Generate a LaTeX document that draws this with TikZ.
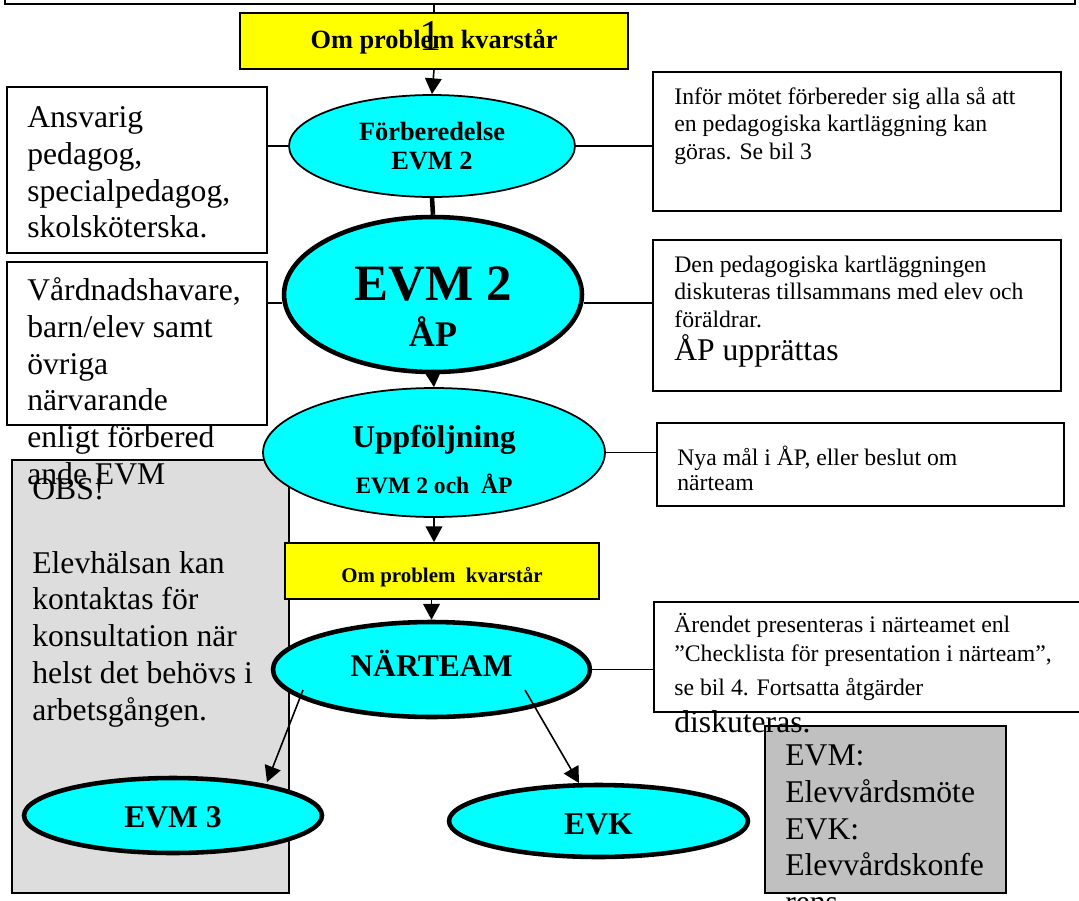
\documentclass[tikz,border=0pt]{standalone}
\usepackage{fontspec}
\setmainfont{Liberation Serif}
\usetikzlibrary{shapes.geometric,arrows.meta,fit,calc}

\definecolor{evmcyan}{RGB}{0,255,255}
\definecolor{probgul}{RGB}{255,255,0}
\definecolor{obsgra}{RGB}{221,221,221}
\definecolor{ordgra}{RGB}{192,192,192}

\tikzset{
  ruta/.style={rectangle, draw, line width=1pt, fill=white, inner sep=0pt},
  moete/.style={ellipse, draw, fill=evmcyan, line width=1pt, inner sep=0pt, align=center},
  tjockmoete/.style={moete, line width=2.6pt},
  problem/.style={rectangle, draw, fill=probgul, line width=1pt, inner sep=0pt},
  brodtext/.style={anchor=north west, inner sep=0pt, align=left, font=\fontsize{18}{21}\selectfont},
  smaltext/.style={anchor=north west, inner sep=0pt, align=left},
  pil/.style={-{Triangle[length=9pt,width=9.5pt]}, line width=0.9pt},
  linje/.style={line width=1pt},
}

\begin{document}
\begin{tikzpicture}[x=0.02cm,y=-0.02cm]
  \useasboundingbox (0,0) rectangle (1079,900);
  \fill[white] (0,0) rectangle (1079,900);

  % ram upptill (avklippt)
  \node[ruta, fit={(5,-40)(1075,4)}] (topbox) {};

  % grå OBS-ruta till vänster
  \node[ruta, fill=obsgra, fit={(12,460)(289,893)}] (obs) {};
  \node[brodtext] (obstext) at (32,473.1) {\strut OBS!\\[21pt]Elevhälsan kan\\kontaktas för\\konsultation när\\helst det behövs i\\arbetsgången.};

  % vänstra rutor: vilka som deltar
  \node[ruta, fit={(7,87)(267,253)}] (ansvar) {};
  \node[brodtext] (ansvartext) at (27,101.1) {\strut Ansvarig\\pedagog,\\specialpedagog,\\skolsköterska.};
  \node[ruta, fit={(7,262)(267,425)}] (vard) {};
  \node[brodtext] (vardtext) at (27,274.1) {\strut Vårdnadshavare,\\barn/elev samt\\övriga\\närvarande\\enligt förbered\\ande EVM};

  % högra rutor: vad som görs
  \node[ruta, fit={(653,72)(1061,211)}] (forbruta) {};
  \node[smaltext, font=\fontsize{13.5}{15.6}\selectfont] (forbtext) at (674,84.7) {\strut Inför mötet förbereder sig alla så att\\en pedagogiska kartläggning kan\\göras. Se bil 3};
  \node[ruta, fit={(653,240)(1061,391)}] (diskruta) {};
  \node[smaltext, font=\fontsize{13.5}{15.6}\selectfont] (disktext) at (674,252.7) {\strut Den pedagogiska kartläggningen\\diskuteras tillsammans med elev och\\föräldrar.};
  \node[anchor=base west, inner sep=0pt, font=\fontsize{18}{21}\selectfont] (upprtext) at (674,360) {ÅP upprättas};
  \node[ruta, fit={(657,423)(1064,506)}] (nyaruta) {};
  \node[smaltext, font=\fontsize{13.5}{14.2}\selectfont] (nyatext) at (677,445.5) {\strut Nya mål i ÅP, eller beslut om\\närteam};
  \node[ruta, fit={(654,602)(1085,712)}] (arenderuta) {};
  \node[smaltext, font=\fontsize{13.5}{16.4}\selectfont] (arendetext) at (674,611.8) {\strut Ärendet presenteras i närteamet enl\\”Checklista för presentation i närteam”,\\[2.9pt]se bil 4. Fortsatta åtgärder};

  % förklaring av förkortningar
  \node[ruta, fill=ordgra, fit={(765,726)(1006,893)}] (ordruta) {};
  \node[brodtext] (ordtext) at (785,739.1) {\strut EVM:\\Elevvårdsmöte\\EVK:\\Elevvårdskonfe\\rens};
  \node[anchor=base west, inner sep=0pt, font=\fontsize{18}{21}\selectfont] (disktxt) at (674,732) {diskuteras.};

  % gången i mitten
  \node[problem, minimum width=7.76cm, minimum height=1.12cm, text height=10pt, text depth=2pt, font=\bfseries\fontsize{15}{17}\selectfont] (prob1) at (434,41) {Om problem kvarstår};
  \node[anchor=base, inner sep=0pt, font=\fontsize{25}{25}\selectfont] (ett) at (430,50) {1};
  \node[moete, minimum width=5.72cm, minimum height=2.04cm, font=\bfseries\fontsize{15}{17}\selectfont] (forb) at (432,146) {Förberedelse\\EVM 2};
  \node[tjockmoete, minimum width=5.96cm, minimum height=3.1cm, font=\bfseries\fontsize{20.5}{26.6}\selectfont] (evm2) at (433,294.5) {{\fontsize{29}{26.6}\selectfont\rule{0pt}{33pt}EVM 2}\\ÅP};
  \node[moete, minimum width=6.84cm, minimum height=2.58cm, font=\bfseries\fontsize{13.4}{26}\selectfont] (uppf) at (434,452.5) {{\fontsize{18}{26}\selectfont\rule{0pt}{21pt}Uppföljning}\\EVM 2 och\ \ ÅP};
  \node[problem, minimum width=6.28cm, minimum height=1.12cm, text height=13.6pt, text depth=0pt, font=\bfseries\fontsize{11.9}{14}\selectfont] (prob2) at (442,571) {Om problem\ \ kvarstår};
  \node[tjockmoete, minimum width=6.34cm, minimum height=1.9cm, text height=12pt, text depth=4.6pt, font=\bfseries\fontsize{18}{21}\selectfont] (naer) at (431.5,669.5) {NÄRTEAM};
  \node[tjockmoete, minimum width=5.96cm, minimum height=1.5cm, text height=14.2pt, text depth=0pt, font=\bfseries\fontsize{18}{21}\selectfont] (evm3) at (173,815.5) {EVM 3};
  \node[tjockmoete, minimum width=5.98cm, minimum height=1.44cm, text height=15.9pt, text depth=0pt, font=\bfseries\fontsize{18}{21}\selectfont] (evk) at (598.5,821) {EVK};

  % pilar nedåt
  \draw[linje] (topbox.south -| prob1.north) -- (prob1.north);
  \draw[pil] (prob1.south) -- (forb.north);
  \draw[line width=2.6pt] (forb.south) -- (evm2.north);
  \draw[pil] (evm2.south) -- (uppf.north);
  \draw[pil] (uppf.south) -- (uppf.south |- prob2.north);
  \draw[pil] (naer.north |- prob2.south) -- (naer.north);

  % linjer till rutorna
  \draw[linje] (ansvar.east |- forb.west) -- (forb.west);
  \draw[linje] (forb.east) -- (forbruta.west |- forb.east);
  \draw[linje] (vard.east |- 0,303) -- (evm2.west |- 0,303);
  \draw[linje] (evm2.east |- 0,303) -- (diskruta.west |- 0,303);
  \draw[linje] (uppf.east) -- (nyaruta.west |- uppf.east);
  \draw[linje] (naer.east) -- (arenderuta.west |- naer.east);

  % från närteam till EVM 3 och EVK
  \coordinate (utv) at (303,690);
  \coordinate (uth) at (525,690);
  \draw[pil] (utv) -- ($(evm3.center)+(94,-33.5)$);
  \draw[pil] (uth) -- ($(evk.center)+(-19.5,-38)$);
\end{tikzpicture}
\end{document}
